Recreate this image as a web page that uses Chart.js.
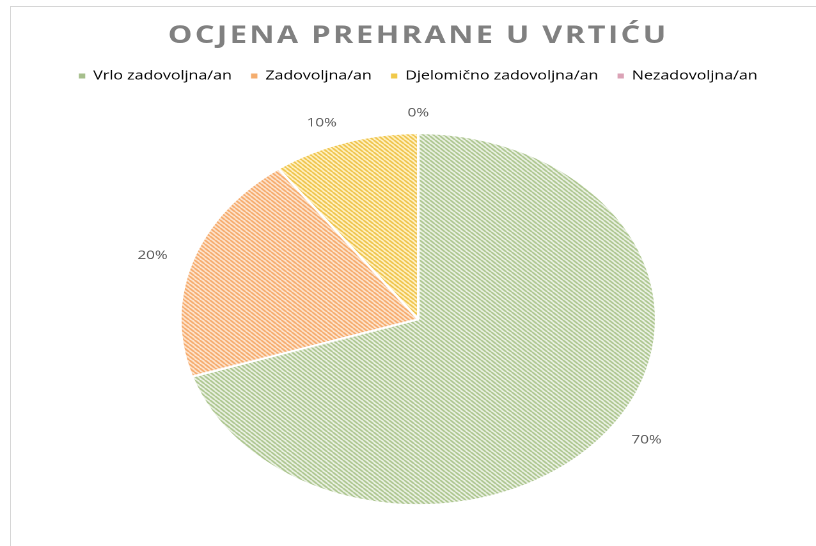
<!DOCTYPE html>
<html>
<head>
<meta charset="utf-8">
<script src="https://cdn.jsdelivr.net/npm/chart.js@4"></script>
<style>
  html, body { margin: 0; padding: 0; background: #fff; overflow: hidden; }
  #frame { position: absolute; left: 10px; top: 6px; width: 900px; height: 600px;
           border-left: 1px solid #d6d6d6; border-top: 1px solid #d6d6d6; }
  #wrap { position: absolute; left: 0; top: 0; transform-origin: 0 0; transform: scaleX(1.279); }
</style>
</head>
<body>
<div id="frame"></div>
<div id="wrap"><canvas id="pieChart" width="638" height="546"></canvas></div>
<script>
// Ocjena prehrane u vrtiću
const labels = ['Vrlo zadovoljna/an', 'Zadovoljna/an', 'Djelomično zadovoljna/an', 'Nezadovoljna/an'];
const values = [70, 20, 10, 0];
const markerColors = ['#a6bf8c', '#f4ad6e', '#f0c94a', '#dba3b6'];
const hatchColors = [
  ['#aec791', '#e9f0e1'],
  ['#f6ac6e', '#fde2cb'],
  ['#efc54e', '#fff0c0'],
  ['#d9a0b3', '#f6e2e9']
];

function hatch(fg, bg) {
  const c = document.createElement('canvas');
  c.width = 8; c.height = 8;
  const g = c.getContext('2d');
  g.fillStyle = bg;
  g.fillRect(0, 0, 8, 8);
  g.strokeStyle = fg;
  g.lineWidth = 3;
  for (const k of [-8, 0, 8]) {
    g.beginPath();
    g.moveTo(k, 0);
    g.lineTo(k + 8, 8);
    g.stroke();
  }
  const p = g.createPattern(c, 'repeat');
  p.setTransform(new DOMMatrix([0.5, 0, 0, 0.5, 0, 0]));
  return p;
}

const percentLabels = {
  id: 'percentLabels',
  afterInit(chart) {
    // spaced out title letters
    const tb = chart.titleBlock;
    const draw = tb.draw.bind(tb);
    tb.draw = function () {
      chart.ctx.save();
      chart.ctx.letterSpacing = '2px';
      draw();
      chart.ctx.restore();
    };
  },
  afterDraw(chart) {
    const ctx = chart.ctx;
    const meta = chart.getDatasetMeta(0);
    ctx.save();
    ctx.font = '12px "Open Sans"';
    ctx.fillStyle = '#595959';
    ctx.textBaseline = 'middle';
    meta.data.forEach((arc, i) => {
      const p = arc.getProps(['x', 'y', 'startAngle', 'endAngle', 'outerRadius'], true);
      const mid = (p.startAngle + p.endAngle) / 2;
      const r = p.outerRadius + 20;
      const c = Math.cos(mid);
      ctx.textAlign = c > 0.1 ? 'left' : (c < -0.1 ? 'right' : 'center');
      ctx.fillText(values[i] + '%', p.x + r * c, p.y + r * Math.sin(mid));
    });
    ctx.restore();
  }
};

new Chart(document.getElementById('pieChart'), {
  type: 'pie',
  data: {
    labels: labels,
    datasets: [{
      data: values,
      backgroundColor: hatchColors.map(h => hatch(h[0], h[1])),
      borderColor: '#ffffff',
      borderWidth: 2
    }]
  },
  options: {
    responsive: false,
    animation: false,
    devicePixelRatio: 2,
    radius: 186,
    layout: { padding: { top: 0, left: 16, right: 0, bottom: 0 } },
    plugins: {
      title: {
        display: true,
        text: 'OCJENA PREHRANE U VRTIĆU',
        color: '#808080',
        font: { family: '"Open Sans"', size: 24, weight: 'bold' },
        padding: { top: 22, bottom: 4 }
      },
      legend: {
        position: 'top',
        labels: {
          font: { family: '"Open Sans"', size: 12.5 },
          color: '#595959',
          boxWidth: 5,
          boxHeight: 5,
          padding: 15,
          generateLabels: () => labels.map((t, i) => ({
            text: t,
            fillStyle: markerColors[i],
            strokeStyle: markerColors[i],
            lineWidth: 0,
            hidden: false,
            index: i
          }))
        }
      },
      tooltip: { enabled: false }
    }
  },
  plugins: [percentLabels]
});
</script>
</body>
</html>
